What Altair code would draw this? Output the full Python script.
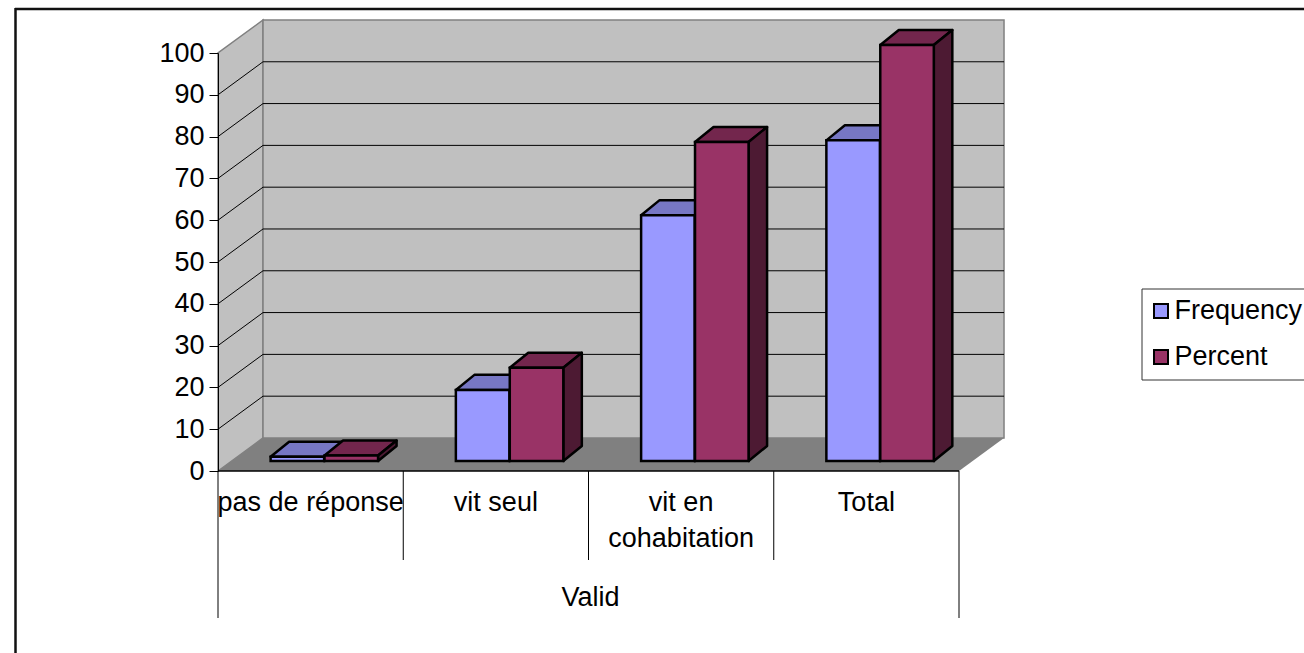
import altair as alt
import pandas as pd

# Chart values
categories = ["pas de réponse", "vit seul", "vit en\ncohabitation", "Total"]
group_label = "Valid"
series_names = ["Frequency", "Percent"]
frequency = [1.0, 17.0, 58.8, 76.7]
percent = [1.3, 22.3, 76.3, 99.5]
y_ticks = list(range(0, 101, 10))

# Colours
front_colors = ["#9999FF", "#993366"]
top_colors = ["#7777C4", "#73264D"]
side_colors = ["#5A5A9A", "#4D1A33"]
WALL = "#C0C0C0"
FLOOR = "#808080"
FONT = "Liberation Sans"
FONT_SIZE = 27

# Oblique projection of the box, in axis units
WALL_DX, WALL_DY = 0.243, 7.9
BAR_DX, BAR_DY = 0.1, 3.6
BAR_BASE = 2.4
BAR_LEFT = {"Frequency": 0.284, "Percent": 0.575}
BAR_WIDTH = 0.289

X = alt.X("x:Q", scale=alt.Scale(domain=[0, 4], nice=False, zero=False), axis=None)
Y = alt.Y(
    "y:Q",
    scale=alt.Scale(domain=[0, 100], nice=False, zero=False),
    axis=alt.Axis(
        values=y_ticks, title=None, grid=False, domainColor="black", domainWidth=1,
        tickColor="black", tickSize=9, labelPadding=5, labelFont=FONT,
        labelFontSize=FONT_SIZE, labelColor="black", zindex=1,
    ),
)

# Walls and floor
left_wall = alt.Chart(pd.DataFrame({
    "x": [0, WALL_DX], "y": [0, WALL_DY], "y2": [100, 100 + WALL_DY],
})).mark_area(color=WALL, stroke=FLOOR, strokeWidth=1.5).encode(x=X, y=Y, y2="y2:Q")

back_wall = alt.Chart(pd.DataFrame({
    "x": [WALL_DX], "x2": [4 + WALL_DX], "y": [WALL_DY], "y2": [100 + WALL_DY],
})).mark_rect(color=WALL, stroke=FLOOR, strokeWidth=1.5).encode(x=X, x2="x2:Q", y=Y, y2="y2:Q")

floor = alt.Chart(pd.DataFrame({
    "y": [0, WALL_DY], "x": [0, WALL_DX], "x2": [4, 4 + WALL_DX],
})).mark_area(color=FLOOR, orient="horizontal").encode(y=Y, x=X, x2="x2:Q")

# Gridlines run across the side wall, then along the back wall
grid_rows = []
for t in y_ticks[1:-1]:
    grid_rows += [
        {"t": t, "o": 0, "x": 0, "y": t},
        {"t": t, "o": 1, "x": WALL_DX, "y": t + WALL_DY},
        {"t": t, "o": 2, "x": 4 + WALL_DX, "y": t + WALL_DY},
    ]
grid = alt.Chart(pd.DataFrame(grid_rows)).mark_line(color="black", strokeWidth=1).encode(
    x=X, y=Y, detail="t:N", order="o:Q"
)

# Bars
values = {"Frequency": frequency, "Percent": percent}
front_rows, faces = [], []
for name, top_col, side_col in zip(series_names, top_colors, side_colors):
    top_rows, side_rows = [], []
    for i, v in enumerate(values[name]):
        x0 = i + BAR_LEFT[name]
        x1 = x0 + BAR_WIDTH
        top = BAR_BASE + v
        front_rows.append({"series": name, "x": x0, "x2": x1, "y": BAR_BASE, "y2": top})
        top_rows += [
            {"c": i, "y": top, "x": x0, "x2": x1},
            {"c": i, "y": top + BAR_DY, "x": x0 + BAR_DX, "x2": x1 + BAR_DX},
        ]
        side_rows += [
            {"c": i, "x": x1, "y": BAR_BASE, "y2": top},
            {"c": i, "x": x1 + BAR_DX, "y": BAR_BASE + BAR_DY, "y2": top + BAR_DY},
        ]
    faces.append(alt.Chart(pd.DataFrame(top_rows)).mark_area(
        color=top_col, stroke="black", strokeWidth=2.5, orient="horizontal", strokeJoin="round"
    ).encode(y=Y, x=X, x2="x2:Q", detail="c:N"))
    faces.append(alt.Chart(pd.DataFrame(side_rows)).mark_area(
        color=side_col, stroke="black", strokeWidth=2.5, strokeJoin="round"
    ).encode(x=X, y=Y, y2="y2:Q", detail="c:N"))

fronts = alt.Chart(pd.DataFrame(front_rows)).mark_rect(stroke="black", strokeWidth=2.5).encode(
    x=X, x2="x2:Q", y=Y, y2="y2:Q",
    color=alt.Color(
        "series:N",
        scale=alt.Scale(domain=series_names, range=front_colors),
        legend=alt.Legend(
            title=None, orient="none", legendX=923.5, legendY=235.5,
            fillColor="white", strokeColor="#333333", padding=9,
            symbolType="square", symbolSize=196, symbolStrokeColor="black",
            symbolStrokeWidth=2, symbolOpacity=1, labelFont=FONT, labelFontSize=FONT_SIZE,
            labelColor="black", labelLimit=300, rowPadding=18, labelOffset=0,
            symbolOffset=-3,
        ),
    ),
)

# Category labels and their separators under the floor
baseline = alt.Chart(pd.DataFrame({"x": [0], "x2": [4], "y": [0]})).mark_rule(
    color="black", strokeWidth=1.5
).encode(x=X, x2="x2:Q", y=Y)

short_seps = alt.Chart(pd.DataFrame({"x": [1, 2, 3]})).mark_rule(color="black", strokeWidth=1).encode(
    x=X, y=alt.value(418), y2=alt.value(507)
)
long_seps = alt.Chart(pd.DataFrame({"x": [0, 4]})).mark_rule(color="black", strokeWidth=1).encode(
    x=X, y=alt.value(418), y2=alt.value(565)
)

cat_labels = alt.Chart(pd.DataFrame({
    "x": [i + 0.5 for i in range(len(categories))], "label": categories,
})).mark_text(
    font=FONT, fontSize=FONT_SIZE, color="black", lineBreak="\n", lineHeight=36,
    baseline="middle", align="center",
).encode(x=X, y=alt.value(450), text="label:N")

group_text = alt.Chart(pd.DataFrame({"x": [2], "label": [group_label]})).mark_text(
    font=FONT, fontSize=FONT_SIZE, color="black", baseline="middle", align="center", dx=2,
).encode(x=X, y=alt.value(545), text="label:N")

# Frame around the figure, open at the right and bottom
frame_top = alt.Chart(pd.DataFrame({"k": [0]})).mark_rule(color="#111111", strokeWidth=2.5).encode(
    x=alt.value(-203), x2=alt.value(1086), y=alt.value(-44)
)
frame_left = alt.Chart(pd.DataFrame({"k": [0]})).mark_rule(color="#111111", strokeWidth=2.5).encode(
    x=alt.value(-202.5), y=alt.value(-45), y2=alt.value(600)
)

chart = alt.layer(
    frame_top, frame_left, left_wall, back_wall, floor, grid,
    *faces, fronts, baseline, short_seps, long_seps, cat_labels, group_text,
).properties(
    width=741, height=418,
    padding={"left": 218, "top": 53, "right": 345, "bottom": 182},
    autosize=alt.AutoSizeParams(type="none"),
    background="white",
).configure_view(stroke=None)

chart.save("out.html", embed_options={"renderer": "svg", "actions": False})
